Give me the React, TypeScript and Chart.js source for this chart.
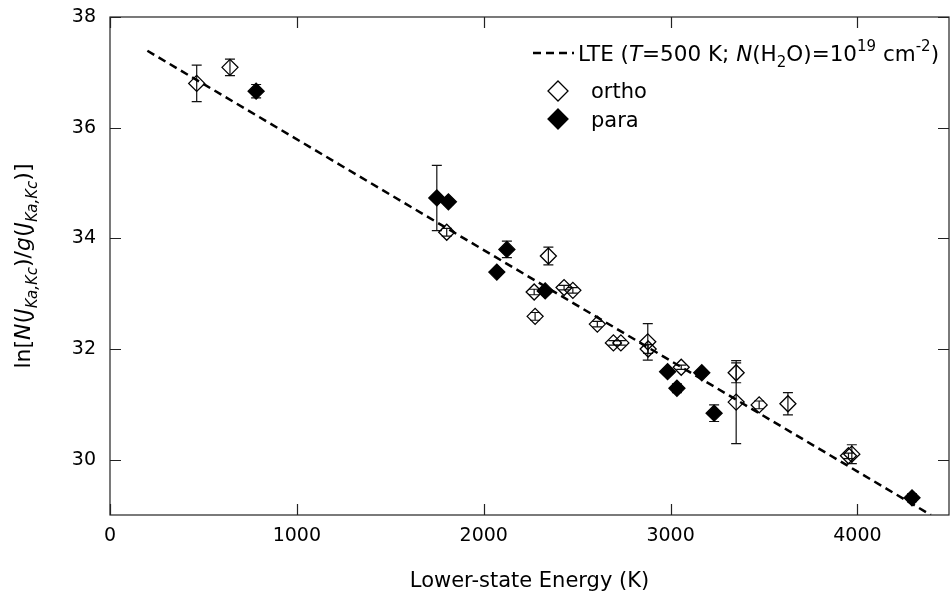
import React, { useEffect, useRef } from "react";
import { Chart, registerables } from "chart.js";

Chart.register(...registerables);

// ---- data ----
const orthoE = [464, 642, 1802, 2346, 2270, 2430, 2477, 2275, 2608, 2694, 2734, 2878, 2880, 3057, 3351, 3351, 3474, 3628, 3952, 3970];
const orthoY = [36.8, 37.09, 34.11, 33.68, 33.03, 33.11, 33.06, 32.59, 32.45, 32.11, 32.11, 32.13, 32.0, 31.67, 31.57, 31.04, 30.99, 31.01, 30.07, 30.1];
const orthoErr = [0.33, 0.15, 0.07, 0.16, 0.05, 0.04, 0.05, 0.07, 0.05, 0.04, 0.04, 0.33, 0.08, 0.04, 0.18, 0.75, 0.07, 0.2, 0.05, 0.17];

const paraE = [782, 1749, 1811, 2124, 2070, 2329, 2984, 3034, 3167, 3233, 4292];
const paraY = [36.66, 34.73, 34.66, 33.8, 33.39, 33.05, 31.59, 31.29, 31.57, 30.84, 29.31];
const paraErr = [0.12, 0.59, 0.05, 0.15, 0.04, 0.05, 0.05, 0.08, 0.05, 0.15, 0.07];

const lteE = [200, 4393];
const lteY = [37.39, 29.0];

const xTicks = [0, 1000, 2000, 3000, 4000];
const yTicks = [30, 32, 34, 36, 38];
const xRange = [0, 4490];
const yRange = [29, 38];

const FAM = '"DejaVu Sans", sans-serif';

type Seg = { t: string; it?: boolean; sub?: boolean; sup?: boolean };

function drawRich(ctx: CanvasRenderingContext2D, segs: Seg[], x: number, y: number, size: number, align: "left" | "center") {
  const font = (s: Seg) => `${s.it ? "italic " : ""}${s.sub || s.sup ? Math.round(size * 0.68) : size}px ${FAM}`;
  let total = 0;
  for (const s of segs) {
    ctx.font = font(s);
    total += ctx.measureText(s.t).width;
  }
  let cx = align === "center" ? x - total / 2 : x;
  ctx.textAlign = "left";
  ctx.textBaseline = "alphabetic";
  for (const s of segs) {
    ctx.font = font(s);
    const dy = s.sub ? size * 0.3 : s.sup ? -size * 0.45 : 0;
    ctx.fillText(s.t, cx, y + dy);
    cx += ctx.measureText(s.t).width;
  }
}

function diamond(ctx: CanvasRenderingContext2D, x: number, y: number, r: number, filled: boolean) {
  ctx.beginPath();
  ctx.moveTo(x, y - r);
  ctx.lineTo(x + r, y);
  ctx.lineTo(x, y + r);
  ctx.lineTo(x - r, y);
  ctx.closePath();
  if (filled) {
    ctx.fillStyle = "#000";
    ctx.fill();
  }
  ctx.strokeStyle = "#000";
  ctx.lineWidth = 1.3;
  ctx.stroke();
}

const errorBars = {
  id: "errorBars",
  beforeDatasetsDraw(chart: any) {
    const { ctx, scales } = chart;
    const xs = scales.x;
    const ys = scales.y;
    ctx.save();
    ctx.strokeStyle = "#111";
    ctx.lineWidth = 1.2;
    const draw = (E: number[], Y: number[], Er: number[]) => {
      for (let i = 0; i < E.length; i++) {
        if (!Er[i]) continue;
        const px = xs.getPixelForValue(E[i]);
        const t = ys.getPixelForValue(Y[i] + Er[i]);
        const b = ys.getPixelForValue(Y[i] - Er[i]);
        ctx.beginPath();
        ctx.moveTo(px, t);
        ctx.lineTo(px, b);
        ctx.moveTo(px - 5, t);
        ctx.lineTo(px + 5, t);
        ctx.moveTo(px - 5, b);
        ctx.lineTo(px + 5, b);
        ctx.stroke();
      }
    };
    draw(orthoE, orthoY, orthoErr);
    draw(paraE, paraY, paraErr);
    ctx.restore();
  },
};

const frameAndText = {
  id: "frameAndText",
  afterDraw(chart: any) {
    const { ctx, chartArea, scales } = chart;
    const { left, right, top, bottom } = chartArea;
    ctx.save();
    // frame
    ctx.strokeStyle = "#222";
    ctx.lineWidth = 1.2;
    ctx.strokeRect(left, top, right - left, bottom - top);
    // inward ticks
    const TL = 11;
    ctx.beginPath();
    for (const v of xTicks) {
      const px = Math.round(scales.x.getPixelForValue(v)) + 0.5;
      ctx.moveTo(px, bottom);
      ctx.lineTo(px, bottom - TL);
      ctx.moveTo(px, top);
      ctx.lineTo(px, top + TL);
    }
    for (const v of yTicks) {
      const py = Math.round(scales.y.getPixelForValue(v)) + 0.5;
      ctx.moveTo(left, py);
      ctx.lineTo(left + TL, py);
      ctx.moveTo(right, py);
      ctx.lineTo(right - TL, py);
    }
    ctx.stroke();

    ctx.fillStyle = "#000";
    // x title
    drawRich(ctx, [{ t: "Lower-state Energy (K)" }], (left + right) / 2, bottom + 72, 21, "center");
    // y title
    ctx.save();
    ctx.translate(30, (top + bottom) / 2);
    ctx.rotate(-Math.PI / 2);
    drawRich(
      ctx,
      [
        { t: "ln[" },
        { t: "N", it: true },
        { t: "(" },
        { t: "J", it: true },
        { t: "Ka,Kc", it: true, sub: true },
        { t: ")/" },
        { t: "g", it: true },
        { t: "(" },
        { t: "J", it: true },
        { t: "Ka,Kc", it: true, sub: true },
        { t: ")]" },
      ],
      0,
      0,
      22,
      "center"
    );
    ctx.restore();

    // legend
    ctx.strokeStyle = "#000";
    ctx.lineWidth = 2.5;
    ctx.setLineDash([8, 5]);
    ctx.beginPath();
    ctx.moveTo(533, 53);
    ctx.lineTo(574, 53);
    ctx.stroke();
    ctx.setLineDash([]);
    ctx.fillStyle = "#000";
    drawRich(
      ctx,
      [
        { t: "LTE (" },
        { t: "T", it: true },
        { t: "=500 K; " },
        { t: "N", it: true },
        { t: "(H" },
        { t: "2", sub: true },
        { t: "O)=10" },
        { t: "19", sup: true },
        { t: " cm" },
        { t: "-2", sup: true },
        { t: ")" },
      ],
      578,
      61,
      21.5,
      "left"
    );
    diamond(ctx, 558, 91, 10, false);
    diamond(ctx, 558, 119, 10, true);
    ctx.fillStyle = "#000";
    drawRich(ctx, [{ t: "ortho" }], 591, 98, 21, "left");
    drawRich(ctx, [{ t: "para" }], 591, 127, 21, "left");
    ctx.restore();
  },
};

export default function App() {
  const ref = useRef<HTMLCanvasElement | null>(null);
  useEffect(() => {
    document.body.style.margin = "0";
    const canvas = ref.current!;
    const chart = new Chart(canvas, {
      type: "scatter",
      data: {
        datasets: [
          {
            type: "line",
            label: "LTE",
            data: lteE.map((e, i) => ({ x: e, y: lteY[i] })),
            borderColor: "#000",
            borderWidth: 2.5,
            borderDash: [8, 5],
            pointRadius: 0,
            fill: false,
          } as any,
          {
            label: "ortho",
            data: orthoE.map((e, i) => ({ x: e, y: orthoY[i] })),
            pointStyle: "rectRot",
            pointRadius: 8,
            backgroundColor: "rgba(255,255,255,0)",
            borderColor: "#000",
            borderWidth: 1.3,
          },
          {
            label: "para",
            data: paraE.map((e, i) => ({ x: e, y: paraY[i] })),
            pointStyle: "rectRot",
            pointRadius: 8,
            backgroundColor: "#000",
            borderColor: "#000",
            borderWidth: 1.3,
          },
        ],
      },
      options: {
        responsive: false,
        animation: false,
        devicePixelRatio: 1,
        layout: { autoPadding: false, padding: { top: 17, right: 1, left: 0, bottom: 0 } },
        plugins: { legend: { display: false }, tooltip: { enabled: false } },
        scales: {
          x: {
            type: "linear",
            min: xRange[0],
            max: xRange[1],
            afterBuildTicks: (s: any) => {
              s.ticks = xTicks.map((v) => ({ value: v }));
            },
            afterFit: (s: any) => {
              s.height = 84;
              s.paddingLeft = 0;
              s.paddingRight = 0;
            },
            grid: { display: false, drawTicks: false },
            border: { display: false },
            ticks: {
              color: "#000",
              padding: 10,
              font: { family: FAM, size: 19 },
              maxRotation: 0,
              callback: (v: any) => String(v),
            },
          },
          y: {
            type: "linear",
            min: yRange[0],
            max: yRange[1],
            afterBuildTicks: (s: any) => {
              s.ticks = yTicks.map((v) => ({ value: v }));
            },
            afterFit: (s: any) => {
              s.width = 110;
              s.paddingTop = 0;
              s.paddingBottom = 0;
            },
            grid: { display: false, drawTicks: false },
            border: { display: false },
            ticks: { color: "#000", padding: 14, font: { family: FAM, size: 19 }, callback: (v: any) => String(v) },
          },
        },
      },
      plugins: [errorBars, frameAndText],
    });
    return () => chart.destroy();
  }, []);
  return <canvas ref={ref} width={950} height={599} style={{ display: "block" }} />;
}
